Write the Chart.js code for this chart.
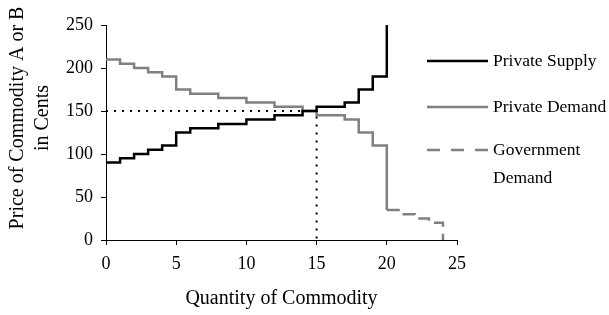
<!DOCTYPE html>
<html>
<head>
<meta charset="utf-8">
<script src="https://cdn.jsdelivr.net/npm/chart.js@4/dist/chart.umd.min.js"></script>
<style>
  html, body { margin: 0; padding: 0; background: #fff; }
  #wrap { width: 609px; height: 315px; position: relative; }
</style>
</head>
<body>
<div id="wrap"><canvas id="chart"></canvas></div>
<script>
// Data
const supplyQty = [0, 1, 2, 3, 4, 5, 6, 8, 10, 12, 14, 15, 17, 18, 19, 20];
const supplyPrice = [90, 95, 100, 105, 110, 125, 130, 135, 140, 145, 150, 155, 160, 175, 190, 250];

const demandQty = [0, 1, 2, 3, 4, 5, 6, 8, 10, 12, 14, 15, 17, 18, 19, 20];
const demandPrice = [210, 205, 200, 195, 190, 175, 170, 165, 160, 155, 150, 145, 140, 125, 110, 35];

const govQty = [20, 21, 22, 23, 24];
const govPrice = [35, 30, 25, 20, 0];

const eqQty = 15;
const eqPrice = 150;

const xTicks = [0, 5, 10, 15, 20, 25];
const yTicks = [0, 50, 100, 150, 200, 250];

const labels = ["Private Supply", "Private Demand", "Government Demand"];

const FONT = "'Liberation Serif', 'Times New Roman', serif";

function toPoints(xs, ys) {
    return xs.map((x, i) => ({ x: x, y: ys[i] }));
}

// legend + y title drawn by hand (legend sits over the plot like the original)
const customText = {
    id: "customText",
    afterDraw(chart) {
        const ctx = chart.ctx;
        ctx.save();
        ctx.fillStyle = "#000";
        ctx.textBaseline = "middle";
        ctx.font = "17.5px " + FONT;

        const items = [
            { y: 61, color: "#000", width: 2.5, dash: [], text: [labels[0]] },
            { y: 107, color: "#808080", width: 2.5, dash: [], text: [labels[1]] },
            { y: 150, color: "#808080", width: 2.5, dash: [13, 11], text: ["Government", "Demand"] },
        ];
        items.forEach(it => {
            ctx.beginPath();
            ctx.strokeStyle = it.color;
            ctx.lineWidth = it.width;
            ctx.setLineDash(it.dash);
            ctx.moveTo(427, it.y);
            ctx.lineTo(488, it.y);
            ctx.stroke();
            it.text.forEach((t, i) => {
                ctx.fillText(t, 493, it.y + i * 28);
            });
        });
        ctx.setLineDash([]);

        // y axis title, two lines
        ctx.font = "20px " + FONT;
        ctx.textAlign = "center";
        ctx.translate(0, 118);
        ctx.rotate(-Math.PI / 2);
        ctx.fillText("Price of Commodity A or B", 0, 18);
        ctx.fillText("in Cents", 0, 43);
        ctx.restore();
    }
};

const ctx = document.getElementById("chart").getContext("2d");
const chart = new Chart(ctx, {
    type: "line",
    data: {
        datasets: [
            {
                label: labels[0],
                data: toPoints(supplyQty, supplyPrice),
                borderColor: "#000",
                borderWidth: 2.5,
                stepped: true,
                pointRadius: 0,
            },
            {
                label: labels[1],
                data: toPoints(demandQty, demandPrice),
                borderColor: "#808080",
                borderWidth: 2.5,
                stepped: true,
                pointRadius: 0,
            },
            {
                label: labels[2],
                data: toPoints(govQty, govPrice),
                borderColor: "#808080",
                borderWidth: 2.5,
                borderDash: [13, 7],
                stepped: true,
                pointRadius: 0,
            },
            {
                label: "equilibrium",
                data: [{ x: 0, y: eqPrice }, { x: eqQty, y: eqPrice }, { x: eqQty, y: 0 }],
                borderColor: "#000",
                borderWidth: 2,
                borderDash: [2, 6],
                pointRadius: 0,
            },
        ],
    },
    options: {
        responsive: true,
        maintainAspectRatio: false,
        animation: false,
        layout: { padding: { left: 0, right: 152, top: 25, bottom: 0 } },
        plugins: {
            legend: { display: false },
            tooltip: { enabled: false },
        },
        scales: {
            x: {
                type: "linear",
                min: 0,
                max: 25,
                afterBuildTicks: (scale) => { scale.ticks = xTicks.map(v => ({ value: v })); },
                afterFit: (scale) => { scale.height = 75; },
                border: { color: "#000", width: 1 },
                grid: { display: true, drawOnChartArea: false, drawTicks: true, tickLength: 5, color: "#000" },
                ticks: { color: "#000", font: { family: FONT, size: 18 }, padding: 8, maxRotation: 0 },
                title: {
                    display: true,
                    text: "Quantity of Commodity",
                    color: "#000",
                    font: { family: FONT, size: 20 },
                    padding: { top: 10 },
                },
            },
            y: {
                type: "linear",
                min: 0,
                max: 250,
                afterBuildTicks: (scale) => { scale.ticks = yTicks.map(v => ({ value: v })); },
                afterFit: (scale) => { scale.width = 106; },
                border: { color: "#000", width: 1 },
                grid: { display: true, drawOnChartArea: false, drawTicks: true, tickLength: 5, color: "#000" },
                ticks: { color: "#000", font: { family: FONT, size: 18 }, padding: 8 },
            },
        },
    },
    plugins: [customText],
});
</script>
</body>
</html>
